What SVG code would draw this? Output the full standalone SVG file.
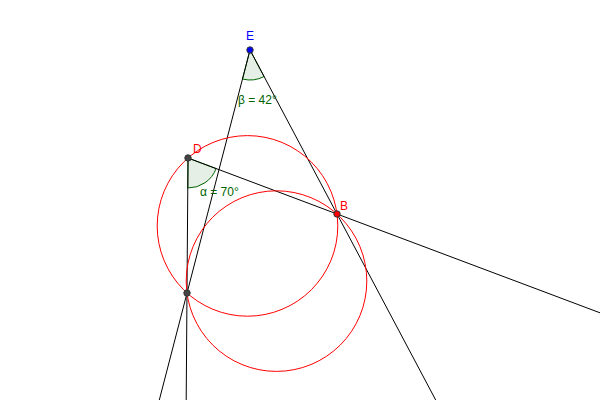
<svg xmlns="http://www.w3.org/2000/svg" width="600" height="400" viewBox="0 0 600 400">
<style>
.ln{stroke:#000;stroke-width:1;fill:none}
.cir{stroke:#ff0000;stroke-width:1;fill:none}
.sec{fill:#006400;fill-opacity:0.1;stroke:#006400;stroke-width:1}
.ang{font-family:"Liberation Sans",Arial,sans-serif;font-size:12px;fill:#006400}
.lbl{font-family:"Liberation Sans",Arial,sans-serif;font-size:12px}
.pt{stroke:#333;stroke-width:1}
</style>
<rect width="600" height="400" fill="#fff"/>
<g id="angles">
<path class="sec" d="M250,50 L242.5,79 A30,30 0 0,0 264.1,76.5 Z"/>
<path class="sec" d="M188,158 L187.8,188 A30,30 0 0,0 216.1,168.6 Z"/>
</g>
<g id="connectors">
<line class="ln" x1="250" y1="50" x2="159.3" y2="400"/>
<line class="ln" x1="250" y1="50" x2="435.7" y2="400"/>
<line class="ln" x1="188" y1="158" x2="600" y2="312.8"/>
<line class="ln" x1="188" y1="158" x2="186.2" y2="400"/>
</g>
<g id="circles">
<circle class="cir" cx="247.5" cy="225.9" r="90.3"/>
<circle class="cir" cx="276.5" cy="281.1" r="90.3"/>
</g>
<g id="E"><circle class="pt" cx="250" cy="50" r="3.2" fill="#0000ff"/><text class="lbl" x="246" y="40" fill="#0000ff">E</text></g>
<g id="D"><circle class="pt" cx="188" cy="158" r="3.2" fill="#444"/><text class="lbl" x="193" y="153" fill="#ff0000">D</text></g>
<g id="B"><circle class="pt" cx="337" cy="214" r="3.2" fill="#ff0000"/><text class="lbl" x="340" y="210" fill="#ff0000">B</text></g>
<g id="A"><circle class="pt" cx="187" cy="293" r="3.2" fill="#444"/></g>
<g id="labels">
<text class="ang" x="238" y="104">β = 42°</text>
<text class="ang" x="200" y="196">α = 70°</text>
</g>
</svg>
